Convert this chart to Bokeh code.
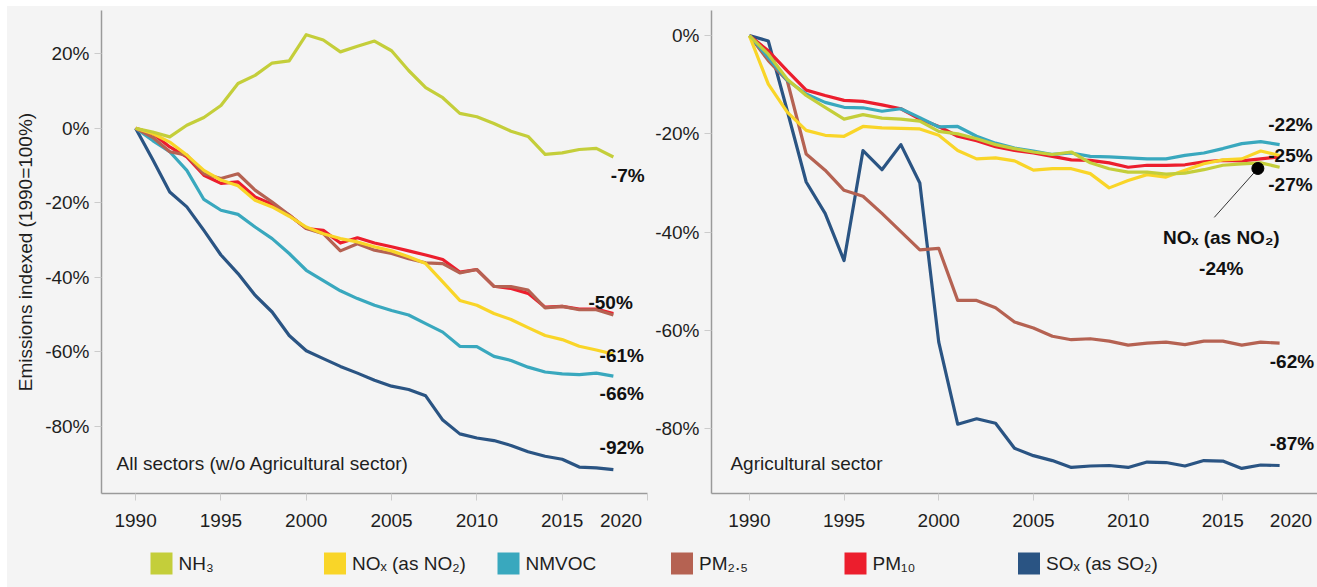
from bokeh.plotting import figure
from bokeh.layouts import row, column
from bokeh.models import Range1d, FixedTicker, PrintfTickFormatter, Spacer
from bokeh.core.properties import value
from bokeh.embed import file_html
from bokeh.resources import INLINE

# ---------------- data ----------------
years = list(range(1990, 2019))

series_names = ["NH₃", "NOₓ (as NO₂)", "NMVOC", "PM₂.₅", "PM₁₀", "SOₓ (as SO₂)"]
series_colors = ["#c4ce3a", "#f9d528", "#39a8be", "#b56252", "#ec1e2d", "#2a5483"]

# All sectors (w/o agricultural sector), % change vs 1990
nh3_all = [0, -1.0, -2.3, 0.8, 2.9, 6.1, 12.0, 14.2, 17.5, 18.1, 25.1, 23.7, 20.5, 22.0, 23.4,
           20.8, 15.5, 10.9, 8.2, 4.0, 3.1, 1.3, -0.8, -2.2, -7.0, -6.6, -5.7, -5.4, -7.7]
nox_all = [0, -1.4, -3.7, -7.2, -11.3, -13.9, -15.4, -19.3, -21.1, -23.6, -26.5, -28.3, -29.6, -30.5,
           -31.8, -32.9, -34.5, -36.3, -41.2, -46.2, -47.5, -49.7, -51.3, -53.5, -55.6, -56.7, -58.5,
           -59.5, -60.6]
nmvoc_all = [0, -3.3, -6.3, -11.3, -19.1, -22.0, -23.1, -26.5, -29.6, -33.6, -38.1, -40.9, -43.6,
             -45.7, -47.5, -48.9, -50.1, -52.4, -54.7, -58.5, -58.6, -61.2, -62.3, -64.1, -65.4,
             -65.9, -66.1, -65.7, -66.5]
pm25_all = [0, -2.4, -6.3, -7.2, -12.2, -13.5, -12.2, -16.6, -19.8, -23.3, -26.9, -28.3, -32.9, -31.0,
            -32.7, -33.6, -35.0, -36.1, -36.3, -38.8, -37.9, -42.4, -42.5, -43.4, -48.2, -47.8, -48.7,
            -48.7, -50.1]
pm10_all = [0, -1.4, -5.0, -7.7, -12.6, -14.8, -14.4, -18.4, -20.4, -23.3, -26.9, -27.4, -30.8, -29.4,
            -30.8, -31.8, -32.9, -34.0, -35.2, -38.6, -37.9, -42.4, -43.0, -44.3, -48.0, -47.8, -48.5,
            -48.5, -49.7]
sox_all = [0, -8.4, -17.1, -21.1, -27.4, -34.0, -39.0, -44.8, -49.3, -55.6, -59.7, -61.8, -63.9, -65.7,
           -67.6, -69.2, -70.1, -71.8, -78.3, -82.0, -83.1, -83.8, -85.1, -86.8, -88.0, -88.8, -90.9,
           -91.1, -91.6]

# Agricultural sector, % change vs 1990
nh3_ag = [0, -3.8, -8.9, -12.2, -14.6, -17.0, -16.1, -16.8, -17.0, -17.4, -19.5, -20.0, -21.0, -22.2,
          -23.0, -23.7, -24.2, -23.7, -25.9, -27.1, -27.8, -27.8, -28.2, -28.0, -27.3, -26.4, -26.1,
          -25.9, -26.8]
nox_ag = [0, -9.9, -15.6, -19.3, -20.3, -20.5, -18.5, -18.8, -18.9, -19.0, -20.3, -23.4, -25.1, -24.9,
          -25.5, -27.4, -27.1, -27.1, -28.1, -31.0, -29.5, -28.3, -28.8, -27.4, -26.1, -25.3, -25.1,
          -23.5, -24.4]
nmvoc_ag = [0, -4.5, -9.1, -11.9, -13.6, -14.6, -14.7, -15.4, -14.9, -16.7, -18.6, -18.5, -20.5, -21.9,
            -22.9, -23.5, -24.2, -23.9, -24.6, -24.7, -24.9, -25.1, -25.1, -24.4, -23.9, -23.0, -22.0,
            -21.6, -22.2]
pm25_ag = [0, -5.1, -9.2, -24.1, -27.4, -31.5, -32.7, -36.2, -39.9, -43.6, -43.3, -53.9, -53.9, -55.4,
           -58.3, -59.5, -61.2, -61.9, -61.7, -62.2, -63.0, -62.6, -62.4, -62.9, -62.2, -62.2, -63.0,
           -62.4, -62.6]
pm10_ag = [0, -3.1, -7.2, -11.1, -12.2, -13.2, -13.4, -14.1, -14.9, -17.0, -18.5, -20.5, -21.4, -22.6,
           -23.4, -23.9, -24.6, -25.3, -25.4, -25.9, -26.8, -26.4, -26.4, -26.3, -25.7, -25.4, -25.5,
           -25.1, -24.7]
sox_ag = [0, -1.1, -15.3, -29.8, -36.2, -45.8, -23.4, -27.3, -22.2, -30.0, -62.4, -79.1, -78.0, -78.9,
          -84.0, -85.5, -86.5, -87.9, -87.6, -87.5, -87.9, -86.8, -86.9, -87.6, -86.5, -86.6, -88.1,
          -87.4, -87.5]

x_ticks = [1990, 1995, 2000, 2005, 2010, 2015, 2020]
x_tick_labels = ["1990", "1995", "2000", "2005", "2010", "2015", "2020"]
y_ticks_all = [-80, -60, -40, -20, 0, 20]
y_ticks_ag = [-80, -60, -40, -20, 0]

end_labels_all = ["-7%", "-50%", "-61%", "-66%", "-92%"]
end_labels_ag = ["-22%", "-25%", "-27%", "-62%", "-87%"]
callout_text = ["NOₓ (as NO₂)", "-24%"]
callout_point = (2016.85, -27.05)

title_all = "All sectors (w/o Agricultural sector)"
title_ag = "Agricultural sector"
y_title = "Emissions indexed (1990=100%)"

# ---------------- style ----------------
FONT = "Liberation Sans"
BG = "#f4f4f4"
TXT = "#1e1e1e"
FS = "19px"
LW = 3.2


def make_panel(width, b_left, b_right, yr, yticks, last_label_pos, draw_order, series):
    p = figure(width=width, height=532, output_backend="svg", toolbar_location=None,
               x_range=Range1d(1988, 2020), y_range=Range1d(*yr),
               min_border_left=b_left, min_border_right=b_right,
               min_border_top=4, min_border_bottom=45,
               background_fill_color=BG, border_fill_color=BG, outline_line_color=None)
    p.grid.visible = False
    # tick marks at every 5 years (drawn as minor ticks); labels (major ticks) with the
    # last one ("2020") pulled inside the plot like in the original
    label_pos = x_ticks[:-1] + [last_label_pos]
    p.xaxis.ticker = FixedTicker(ticks=label_pos, minor_ticks=x_ticks)
    p.xaxis.major_label_overrides = {pos: lab for pos, lab in zip(label_pos, x_tick_labels)}
    p.xaxis.major_tick_line_color = None
    p.xaxis.major_tick_out = 0
    p.xaxis.major_tick_in = 0
    p.xaxis.minor_tick_line_color = "#cccccc"
    p.xaxis.minor_tick_out = 7
    p.xaxis.minor_tick_in = 0
    p.xaxis.major_label_standoff = 13
    p.yaxis.ticker = FixedTicker(ticks=yticks)
    p.yaxis.formatter = PrintfTickFormatter(format="%d%%")
    p.yaxis.minor_tick_line_color = None
    p.yaxis.major_tick_in = 0
    p.yaxis.major_tick_out = 7
    p.yaxis.major_tick_line_color = "#cccccc"
    p.yaxis.major_label_standoff = 5
    p.axis.axis_line_color = "#9a9a9a"
    p.axis.axis_line_width = 1.5
    p.axis.major_label_text_font = FONT
    p.axis.major_label_text_font_size = FS
    p.axis.major_label_text_color = TXT
    for i in draw_order:
        p.line(years, series[i], line_color=series_colors[i], line_width=LW, line_join="round")
    return p


# Left panel
p1 = make_panel(641, 94, 1, (-98.0, 31.6), y_ticks_all, 2018.45, [5, 2, 4, 3, 1, 0],
                [nh3_all, nox_all, nmvoc_all, pm25_all, pm10_all, sox_all])
p1.yaxis.axis_label = y_title
p1.yaxis.axis_label_text_font = FONT
p1.yaxis.axis_label_text_font_size = FS
p1.yaxis.axis_label_text_font_style = "normal"
p1.yaxis.axis_label_text_color = TXT
p1.yaxis.axis_label_standoff = 6

p1.text(x=[2018.84, 2017.84, 2018.49, 2018.49, 2018.49], y=[-12.7, -46.7, -61.0, -71.2, -85.6],
        text=end_labels_all, text_font=value(FONT), text_font_size=FS, text_font_style="bold",
        text_align="center", text_baseline="middle", text_color="#111111")
p1.text(x=[1988.88], y=[-89.9], text=[title_all], text_font=value(FONT), text_font_size=FS,
        text_align="left", text_baseline="middle", text_color=TXT)

# Right panel
p2 = make_panel(669, 63, 0, (-93.2, 5.1), y_ticks_ag, 2018.6, [5, 3, 4, 2, 1, 0],
                [nh3_ag, nox_ag, nmvoc_ag, pm25_ag, pm10_ag, sox_ag])
p2.text(x=[2018.57, 2018.57, 2018.57, 2018.65, 2018.65], y=[-18.1, -24.4, -30.4, -66.3, -83.1],
        text=end_labels_ag, text_font=value(FONT), text_font_size=FS, text_font_style="bold",
        text_align="center", text_baseline="middle", text_color="#111111")
p2.text(x=[1989.0], y=[-87.1], text=[title_ag], text_font=value(FONT), text_font_size=FS,
        text_align="left", text_baseline="middle", text_color=TXT)
p2.line(x=[callout_point[0], 2014.55], y=[callout_point[1], -37.0], line_color="#333333", line_width=1)
p2.scatter(x=[callout_point[0]], y=[callout_point[1]], size=12, color="#000000")
p2.text(x=[2014.92, 2014.92], y=[-41.1, -47.4], text=callout_text, text_font=value(FONT),
        text_font_size=FS, text_font_style="bold", text_align="center", text_baseline="middle",
        text_color="#111111")

# Legend strip
pl = figure(width=1310, height=49, output_backend="svg", toolbar_location=None,
            x_range=Range1d(0, 1310), y_range=Range1d(0, 49),
            x_axis_location=None, y_axis_location=None,
            min_border=0, background_fill_color=BG, border_fill_color=BG, outline_line_color=None)
pl.grid.visible = False
leg_x = [154 + 173.5 * i for i in range(len(series_names))]
pl.rect(x=leg_x, y=[24] * len(leg_x), width=22, height=22, width_units="screen", height_units="screen",
        fill_color=series_colors, line_color=None)
pl.text(x=[v + 17 for v in leg_x], y=[24] * len(leg_x), text=series_names, text_font=value(FONT),
        text_font_size=FS, text_align="left", text_baseline="middle", text_color=TXT)

bg_style = {"background-color": BG}
charts = column(row(p1, p2, styles=bg_style), pl, styles=bg_style)
layout = column(Spacer(height=6), row(Spacer(width=7), charts))
open("out.html", "w").write(file_html(layout, INLINE))
